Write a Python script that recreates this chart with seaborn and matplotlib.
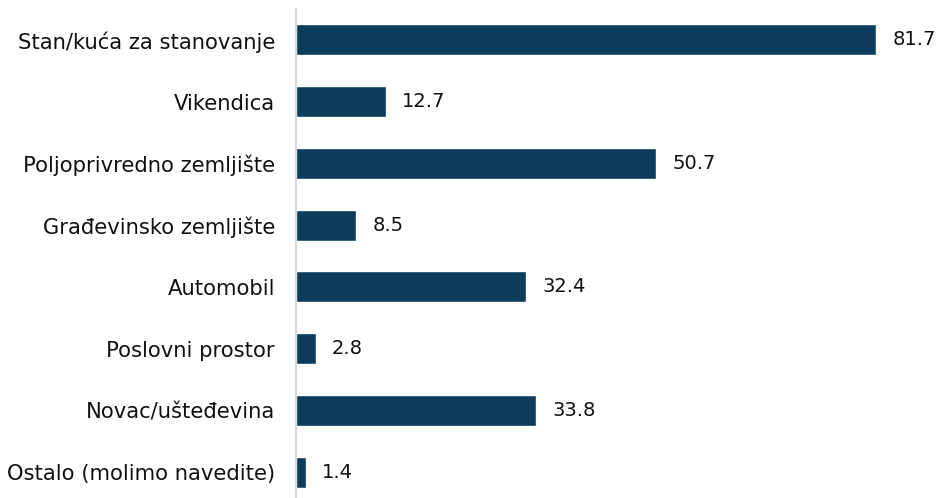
import matplotlib
matplotlib.use("Agg")
import matplotlib.pyplot as plt
import seaborn as sns
import pandas as pd

categories = [
    "Stan/kuća za stanovanje",
    "Vikendica",
    "Poljoprivredno zemljište",
    "Građevinsko zemljište",
    "Automobil",
    "Poslovni prostor",
    "Novac/ušteđevina",
    "Ostalo (molimo navedite)",
]
values = [81.7, 12.7, 50.7, 8.5, 32.4, 2.8, 33.8, 1.4]

df = pd.DataFrame({"category": categories, "value": values})

sns.set_style("white")
plt.rcParams["font.family"] = ["DejaVu Sans"]

fig = plt.figure(figsize=(9.42, 4.98), dpi=100)
ax = fig.add_axes([0.314, 0.0, 0.686, 0.982])

sns.barplot(data=df, x="value", y="category", orient="h", color="#0b3c5b",
            width=0.5, saturation=1, ax=ax)

for i, v in enumerate(values):
    ax.text(v + 2.3, i, f"{v:.1f}", va="center", ha="left", fontsize=14, color="#111111")

ax.set_xlim(0, 91)
ax.set_ylim(7.42, -0.5)
ax.set_xlabel("")
ax.set_ylabel("")
ax.set_xticks([])
ax.tick_params(axis="y", length=0, pad=15, labelsize=15.2, labelcolor="#111111")
for s in ["top", "right", "bottom"]:
    ax.spines[s].set_visible(False)
ax.spines["left"].set_color("#d9d9d9")
ax.spines["left"].set_linewidth(1.5)

fig.savefig("out.png", dpi=100)
